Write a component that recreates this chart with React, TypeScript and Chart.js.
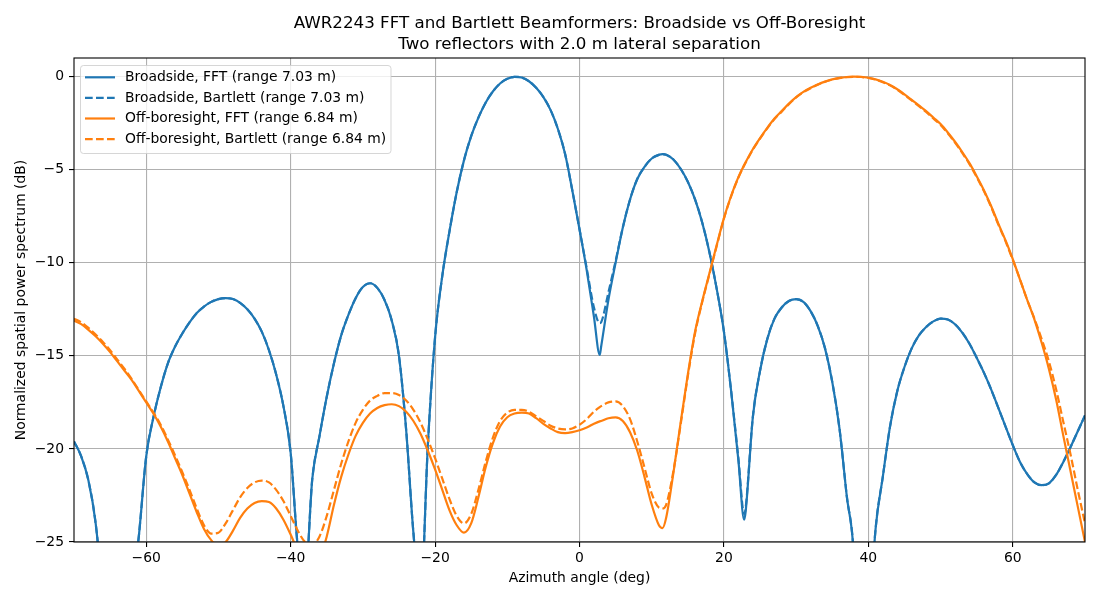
import React, { useEffect, useRef } from 'react';
import { Chart, registerables } from 'chart.js';

Chart.register(...registerables);

// azimuth grid (deg); a few extra samples sit at the sharp dips
const ANGLES = [
  -70, -69, -68, -67, -66, -65, -64, -63, -62, -61,
  -60, -59, -58, -57, -56, -55, -54, -53, -52, -51,
  -50, -49, -48, -47, -46, -45, -44, -43, -42, -41,
  -40, -39, -38, -37, -36, -35, -34, -33, -32, -31,
  -30, -29, -28, -27, -26, -25, -24, -23, -22, -21,
  -20, -19, -18, -17, -16, -15, -14, -13, -12, -11,
  -10, -9, -8, -7, -6, -5, -4, -3, -2, -1,
  0, 1, 2, 2.8, 3, 4, 5, 6, 7, 8, 9,
  10, 11, 11.5, 12, 13, 14, 15, 16, 17, 18, 19,
  20, 21, 22, 22.8, 23, 24, 25, 26, 27, 28, 29,
  30, 31, 32, 33, 34, 35, 36, 37, 38, 39,
  40, 41, 42, 43, 44, 45, 46, 47, 48, 49,
  50, 51, 52, 53, 54, 55, 56, 57, 58, 59,
  60, 61, 62, 63, 64, 65, 66, 67, 68, 69,
  70,
];

const BROADSIDE_FFT = [
  -19.6, -20.4, -21.7, -24.0, -28, -33, -36, -32, -28, -24.6,
  -20.4, -18.3, -16.7, -15.4, -14.5, -13.8, -13.2, -12.7, -12.35, -12.1,
  -11.95, -11.9, -11.95, -12.15, -12.5, -13.0, -13.7, -14.7, -16.0, -17.7,
  -20.2, -25.3, -27, -21.6, -19.3, -17.2, -15.4, -13.9, -12.8, -11.9,
  -11.3, -11.1, -11.35, -12.0, -13.1, -15.0, -19.0, -24.5, -28, -19.8,
  -14.0, -10.7, -8.3, -6.2, -4.5, -3.2, -2.2, -1.4, -0.8, -0.37,
  -0.12, -0.01, -0.05, -0.25, -0.6, -1.1, -1.8, -2.8, -4.15, -6.1,
  -8.2, -10.4, -12.9, -14.95, -14.5, -12.0, -10.0, -8.1, -6.6, -5.5, -4.85,
  -4.4, -4.2, -4.16, -4.2, -4.45, -4.95, -5.65, -6.6, -7.85, -9.45, -11.4,
  -13.7, -16.9, -20.6, -23.8, -23.4, -18.3, -15.8, -14.1, -13.0, -12.4, -12.05,
  -11.95, -12.1, -12.6, -13.4, -14.6, -16.4, -18.9, -22.5, -25.8, -36,
  -30, -24.3, -21.5, -18.8, -16.9, -15.6, -14.6, -13.9, -13.45, -13.15,
  -13.0, -13.05, -13.3, -13.75, -14.35, -15.1, -15.9, -16.8, -17.8, -18.8,
  -19.8, -20.7, -21.35, -21.8, -21.95, -21.85, -21.4, -20.7, -19.9, -19.05,
  -18.2,
];

const BROADSIDE_BARTLETT = [
  -19.6, -20.4, -21.7, -24.0, -28, -33, -36, -32, -28, -24.6,
  -20.4, -18.3, -16.7, -15.4, -14.5, -13.8, -13.2, -12.7, -12.35, -12.1,
  -11.95, -11.9, -11.95, -12.15, -12.5, -13.0, -13.7, -14.7, -16.0, -17.7,
  -20.2, -25.3, -27, -21.6, -19.3, -17.2, -15.4, -13.9, -12.8, -11.9,
  -11.3, -11.1, -11.35, -12.0, -13.1, -15.0, -19.0, -24.5, -28, -19.8,
  -14.0, -10.7, -8.3, -6.2, -4.5, -3.2, -2.2, -1.4, -0.8, -0.37,
  -0.12, -0.01, -0.05, -0.25, -0.6, -1.1, -1.8, -2.8, -4.15, -6.1,
  -8.2, -10.3, -12.4, -13.25, -13.2, -11.6, -9.9, -8.1, -6.6, -5.5, -4.85,
  -4.4, -4.2, -4.16, -4.2, -4.45, -4.95, -5.65, -6.6, -7.85, -9.45, -11.4,
  -13.7, -16.9, -20.5, -23.5, -23.2, -18.3, -15.8, -14.1, -13.0, -12.4, -12.05,
  -11.95, -12.1, -12.6, -13.4, -14.6, -16.4, -18.9, -22.5, -25.8, -36,
  -30, -24.3, -21.5, -18.8, -16.9, -15.6, -14.6, -13.9, -13.45, -13.15,
  -13.0, -13.05, -13.3, -13.75, -14.35, -15.1, -15.9, -16.8, -17.8, -18.8,
  -19.8, -20.7, -21.35, -21.8, -21.95, -21.85, -21.4, -20.7, -19.9, -19.05,
  -18.2,
];

const OFFBORE_FFT = [
  -13.1, -13.3, -13.6, -13.95, -14.35, -14.8, -15.3, -15.8, -16.3, -16.9,
  -17.5, -18.1, -18.8, -19.6, -20.5, -21.4, -22.4, -23.4, -24.3, -24.9,
  -25.2, -25.0, -24.4, -23.7, -23.2, -22.9, -22.8, -22.85, -23.2, -23.8,
  -24.6, -25.5, -26.3, -26.5, -25.9, -24.7, -23.0, -21.5, -20.3, -19.3,
  -18.6, -18.1, -17.8, -17.65, -17.6, -17.7, -18.0, -18.5, -19.2, -20.1,
  -21.1, -22.2, -23.3, -24.1, -24.5, -24.0, -22.6, -21.0, -19.7, -18.8,
  -18.3, -18.1, -18.05, -18.1, -18.35, -18.65, -18.9, -19.1, -19.15, -19.1,
  -19.0, -18.85, -18.65, -18.52, -18.5, -18.35, -18.3, -18.5, -19.1, -20.1, -21.5,
  -23.0, -24.1, -24.25, -23.7, -21.3, -18.6, -16.0, -13.7, -12.05, -10.55, -9.05,
  -7.6, -6.4, -5.4, -4.75, -4.6, -3.9, -3.3, -2.75, -2.25, -1.85, -1.45,
  -1.1, -0.82, -0.6, -0.42, -0.27, -0.15, -0.07, -0.02, 0, -0.01,
  -0.06, -0.15, -0.28, -0.45, -0.68, -0.95, -1.25, -1.55, -1.85, -2.2,
  -2.55, -3.0, -3.5, -4.05, -4.65, -5.35, -6.1, -6.95, -7.9, -8.8,
  -9.8, -10.9, -12.0, -13.05, -14.3, -15.7, -17.35, -19.3, -21.2, -23.1,
  -25.0,
];

const OFFBORE_BARTLETT = [
  -13.0, -13.2, -13.5, -13.85, -14.25, -14.7, -15.2, -15.7, -16.25, -16.85,
  -17.45, -18.05, -18.7, -19.5, -20.35, -21.25, -22.2, -23.2, -24.1, -24.55,
  -24.5, -24.0, -23.3, -22.6, -22.1, -21.8, -21.7, -21.8, -22.2, -22.8,
  -23.6, -24.4, -25.0, -25.15, -24.7, -23.6, -22.2, -20.8, -19.6, -18.6,
  -17.9, -17.4, -17.15, -17.0, -17.0, -17.1, -17.4, -17.9, -18.6, -19.5,
  -20.5, -21.6, -22.7, -23.6, -24.0, -23.5, -22.2, -20.7, -19.4, -18.5,
  -18.05, -17.9, -17.9, -18.0, -18.25, -18.5, -18.75, -18.9, -18.95, -18.9,
  -18.7, -18.4, -18.0, -17.75, -17.7, -17.5, -17.45, -17.7, -18.4, -19.6, -21.0,
  -22.4, -23.15, -23.2, -23.0, -21.2, -18.7, -16.1, -13.8, -12.1, -10.6, -9.1,
  -7.63, -6.43, -5.43, -4.78, -4.63, -3.93, -3.33, -2.78, -2.28, -1.88, -1.48,
  -1.12, -0.84, -0.62, -0.43, -0.28, -0.16, -0.08, -0.03, -0.01, -0.02,
  -0.07, -0.16, -0.3, -0.47, -0.7, -0.98, -1.28, -1.58, -1.9, -2.25,
  -2.6, -3.05, -3.55, -4.1, -4.7, -5.4, -6.15, -7.0, -7.95, -8.85,
  -9.85, -10.9, -12.0, -13.0, -14.1, -15.3, -16.8, -18.55, -20.3, -22.2,
  -24.0,
];

const X_TICKS = [-60, -40, -20, 0, 20, 40, 60];
const Y_TICKS = [-25, -20, -15, -10, -5, 0];

const TITLE_LINES = [
  'AWR2243 FFT and Bartlett Beamformers: Broadside vs Off-Boresight',
  'Two reflectors with 2.0 m lateral separation',
];
const LABELS = [
  'Broadside, FFT (range 7.03 m)',
  'Broadside, Bartlett (range 7.03 m)',
  'Off-boresight, FFT (range 6.84 m)',
  'Off-boresight, Bartlett (range 6.84 m)',
];

const BLUE = '#1f77b4';
const ORANGE = '#ff7f0e';
const FONT = '"DejaVu Sans", Verdana, sans-serif';
const DASH = [7.7, 3.3];
const LW = 2.2;

const STYLES = [
  { color: BLUE, dash: [] as number[] },
  { color: BLUE, dash: DASH },
  { color: ORANGE, dash: [] as number[] },
  { color: ORANGE, dash: DASH },
];

const fmt = (v: number) => (v < 0 ? '\u2212' + Math.abs(v) : String(v));

const pts = (ys: number[]) => ANGLES.map((x, i) => ({ x, y: ys[i] }));

// spines, title and legend drawn the matplotlib way
const decorPlugin = {
  id: 'decor',
  afterDatasetsDraw(chart: any) {
    const { ctx, chartArea: a } = chart;
    ctx.save();
    ctx.strokeStyle = '#000';
    ctx.lineWidth = 1.1;
    ctx.strokeRect(a.left, a.top, a.right - a.left, a.bottom - a.top);
    ctx.restore();
  },
  afterDraw(chart: any) {
    const { ctx, chartArea: a } = chart;
    ctx.save();
    ctx.fillStyle = '#000';
    ctx.textAlign = 'center';
    ctx.textBaseline = 'middle';
    ctx.font = `16.7px ${FONT}`;
    const cx = (a.left + a.right) / 2;
    ctx.fillText(TITLE_LINES[0], cx, 23.5);
    ctx.fillText(TITLE_LINES[1], cx, 44.5);

    // legend box
    const bx = a.left + 6.5, by = a.top + 7.5, bw = 310.5, bh = 88;
    ctx.beginPath();
    ctx.roundRect(bx, by, bw, bh, 3);
    ctx.fillStyle = 'rgba(255,255,255,0.8)';
    ctx.fill();
    ctx.strokeStyle = 'rgba(204,204,204,0.8)';
    ctx.lineWidth = 1;
    ctx.stroke();

    ctx.font = `13.9px ${FONT}`;
    ctx.textAlign = 'left';
    LABELS.forEach((label, i) => {
      const y = a.top + 19.3 + i * 20.6;
      ctx.beginPath();
      ctx.setLineDash(STYLES[i].dash);
      ctx.strokeStyle = STYLES[i].color;
      ctx.lineWidth = LW;
      ctx.moveTo(a.left + 11, y);
      ctx.lineTo(a.left + 41, y);
      ctx.stroke();
      ctx.setLineDash([]);
      ctx.fillStyle = '#000';
      ctx.fillText(label, a.left + 51, y);
    });
    ctx.restore();
  },
};

const BeamformerChart: React.FC = () => {
  const canvasRef = useRef<HTMLCanvasElement | null>(null);
  const chartRef = useRef<Chart | null>(null);

  useEffect(() => {
    document.body.style.margin = '0';
    const ctx = canvasRef.current?.getContext('2d');
    if (!ctx) return;

    const series = [BROADSIDE_FFT, BROADSIDE_BARTLETT, OFFBORE_FFT, OFFBORE_BARTLETT];

    chartRef.current = new Chart(ctx, {
      type: 'line',
      data: {
        datasets: series.map((ys, i) => ({
          label: LABELS[i],
          data: pts(ys),
          borderColor: STYLES[i].color,
          borderDash: STYLES[i].dash,
          borderWidth: LW,
          pointRadius: 0,
          fill: false,
          cubicInterpolationMode: 'monotone' as const,
          clip: 0,
          order: 4 - i,
        })),
      },
      plugins: [decorPlugin],
      options: {
        responsive: true,
        maintainAspectRatio: false,
        animation: false,
        events: [],
        layout: { padding: { top: 58, right: 15, bottom: 0, left: 0 } },
        plugins: {
          legend: { display: false },
          tooltip: { enabled: false },
          title: { display: false },
        },
        scales: {
          x: {
            type: 'linear',
            min: -70,
            max: 70,
            afterBuildTicks: (s: any) => {
              s.ticks = X_TICKS.map((value) => ({ value }));
            },
            afterFit: (s: any) => {
              s.height = 58;
            },
            border: { display: false },
            grid: {
              color: '#b0b0b0',
              lineWidth: 1.1,
              tickColor: '#000',
              tickLength: 5,
              tickWidth: 1.1,
            },
            ticks: {
              color: '#000',
              font: { family: FONT, size: 13.9 },
              padding: 3,
              maxRotation: 0,
              autoSkip: false,
              callback: (v: any) => fmt(Number(v)),
            },
            title: {
              display: true,
              text: 'Azimuth angle (deg)',
              color: '#000',
              font: { family: FONT, size: 13.9 },
              padding: { top: 0, bottom: 13.7 },
            },
          },
          y: {
            type: 'linear',
            min: -25,
            max: 1,
            afterBuildTicks: (s: any) => {
              s.ticks = Y_TICKS.map((value) => ({ value }));
            },
            afterFit: (s: any) => {
              s.width = 74;
            },
            border: { display: false },
            grid: {
              color: '#b0b0b0',
              lineWidth: 1.1,
              tickColor: '#000',
              tickLength: 5,
              tickWidth: 1.1,
            },
            ticks: {
              color: '#000',
              font: { family: FONT, size: 13.9 },
              padding: 5,
              autoSkip: false,
              callback: (v: any) => fmt(Number(v)),
            },
            title: {
              display: true,
              text: 'Normalized spatial power spectrum (dB)',
              color: '#000',
              font: { family: FONT, size: 13.9 },
              padding: { top: 12.7, bottom: 0 },
            },
          },
        },
      },
    });

    return () => {
      chartRef.current?.destroy();
      chartRef.current = null;
    };
  }, []);

  return (
    <div style={{ position: 'relative', width: 1100, height: 600, background: '#fff' }}>
      <canvas ref={canvasRef}></canvas>
    </div>
  );
};

export default function App() {
  return <BeamformerChart />;
}
